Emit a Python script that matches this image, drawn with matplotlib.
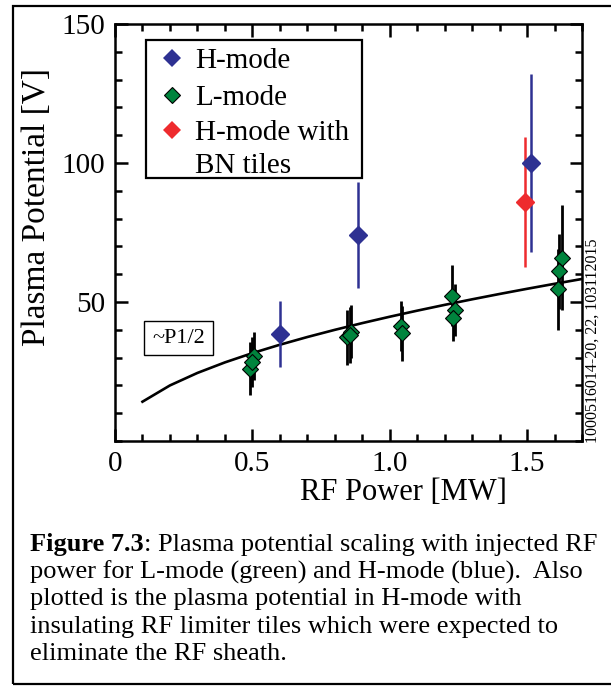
import numpy as np
import matplotlib
matplotlib.use("Agg")
import matplotlib.pyplot as plt
from matplotlib.lines import Line2D
from matplotlib.patches import Rectangle
from matplotlib.ticker import MultipleLocator

plt.rcParams['font.family'] = ['Liberation Serif', 'DejaVu Serif']

# H-mode measurements: RF power [MW], plasma potential [V], error [V]
h_power = [0.60, 0.885, 1.515]
h_potential = [38.5, 74.0, 100.0]
h_err = [12.0, 19.0, 32.0]

# L-mode measurements
l_power = [0.49, 0.505, 0.50, 0.845, 0.86, 0.855, 1.04, 1.045, 1.237, 1.225, 1.232, 1.627, 1.618, 1.613]
l_potential = [26.0, 30.6, 28.4, 37.3, 39.3, 38.1, 41.2, 38.7, 47.1, 52.3, 44.1, 66.0, 61.0, 54.6]
l_err = [9.5, 8.5, 9.0, 10.0, 9.5, 10.0, 9.0, 10.0, 9.5, 11.0, 8.0, 19.0, 13.5, 14.5]

# H-mode with insulating BN limiter tiles
bn_power = [1.493]
bn_potential = [86.0]
bn_err = [23.5]

# square-root scaling fit, V = c * P^(1/2)
fit_coeff = 44.7
fit_power = np.arange(0.1, 1.71, 0.1)

legend_labels = ['H-mode', 'L-mode', 'H-mode with', 'BN tiles']

blue = '#2E3192'
green = '#00843D'
red = '#EE2B2E'

W, H = 611, 691
fig = plt.figure(figsize=(W / 100, H / 100), dpi=100)


def fx(x):
    return x / W


def fy(y):
    return 1 - y / H


# outer frame around figure and caption (right edge runs off the page)
fig.add_artist(Rectangle((fx(13), fy(684)), fx(640 - 13), (684 - 6) / H,
                         transform=fig.transFigure, fill=False, edgecolor='black', lw=1.6))

ax = fig.add_axes([fx(115), fy(441), (582 - 115) / W, (441 - 24) / H])

ax.plot(fit_power, fit_coeff * np.sqrt(fit_power), color='black', lw=1.9, zorder=2)

ax.errorbar(l_power, l_potential, yerr=l_err, fmt='none', ecolor='black', elinewidth=2.0, zorder=3)
ax.plot(l_power, l_potential, 'D', ms=8.4, mfc=green, mec='black', mew=0.8, ls='none', zorder=4)

ax.errorbar(h_power, h_potential, yerr=h_err, fmt='none', ecolor=blue, elinewidth=1.8, zorder=3)
ax.plot(h_power, h_potential, 'D', ms=8.8, mfc=blue, mec=blue, ls='none', zorder=5)

ax.errorbar(bn_power, bn_potential, yerr=bn_err, fmt='none', ecolor=red, elinewidth=1.8, zorder=3)
ax.plot(bn_power, bn_potential, 'D', ms=8.8, mfc=red, mec=red, ls='none', zorder=5)

ax.set_xlim(0, 1.7)
ax.set_ylim(0, 150)
ax.xaxis.set_minor_locator(MultipleLocator(0.1))
ax.yaxis.set_minor_locator(MultipleLocator(10))
ax.set_xticks([0, 0.5, 1.0, 1.5])
ax.set_xticklabels(['0', '0.5', '1.0', '1.5'])
ax.set_yticks([50, 100, 150])
ax.set_yticklabels(['50', '100', '150'])
ax.tick_params(which='both', direction='in', top=True, right=True, labelsize=21, width=1.8)
ax.tick_params(which='major', length=9, pad=7)
ax.tick_params(which='minor', length=5)
for s in ax.spines.values():
    s.set_linewidth(1.8)

ax.set_xlabel('RF Power [MW]', fontsize=22)
ax.xaxis.set_label_coords((403 - 115) / 467, (441 - 478) / 417)
ax.set_ylabel('Plasma Potential [V]', fontsize=24)
ax.yaxis.set_label_coords((52 - 115) / 467, (441 - 207) / 417)

# legend box drawn by hand
fig.add_artist(Rectangle((fx(146), fy(178)), (362 - 146) / W, (178 - 40) / H,
                         transform=fig.transFigure, fc='white', ec='black', lw=1.6, zorder=6))
legend_markers = [(58, blue, blue, 8.8, 0), (95, green, 'black', 8.4, 0.8), (130, red, red, 8.8, 0)]
for y, fc, ec, ms, mew in legend_markers:
    fig.add_artist(Line2D([fx(171.5)], [fy(y)], marker='D', ls='none', ms=ms, mfc=fc, mec=ec,
                          mew=mew, transform=fig.transFigure, zorder=7))
for y, label in zip([58, 95, 130, 163], legend_labels):
    fig.text(fx(195), fy(y), label, fontsize=21, ha='left', va='center_baseline', zorder=7)

# fit annotation
ax.text(0.135, 37.0, '~P1/2', fontsize=16, va='center', ha='left',
        bbox=dict(boxstyle='square,pad=0.35', fc='white', ec='black', lw=1.0))

# figure identifier along the right edge
fig.text(fx(593), fy(443), '1000516014-20, 22, 103112015', rotation=90,
         fontsize=11.5, ha='center', va='bottom')

# caption
cap_x = fx(30)
line_y = [545, 572, 599, 627, 654]
cap_size = 19
fig.canvas.draw()
t0 = fig.text(cap_x, fy(line_y[0]), 'Figure 7.3', fontsize=cap_size, fontweight='bold',
              ha='left', va='center')
fig.canvas.draw()
bb = t0.get_window_extent()
fig.text(bb.x1 / W, fy(line_y[0]), ': Plasma potential scaling with injected RF',
         fontsize=cap_size, ha='left', va='center')
caption_lines = [
    'power for L-mode (green) and H-mode (blue).  Also',
    'plotted is the plasma potential in H-mode with',
    'insulating RF limiter tiles which were expected to',
    'eliminate the RF sheath.',
]
for y, line in zip(line_y[1:], caption_lines):
    fig.text(cap_x, fy(y), line, fontsize=cap_size, ha='left', va='center')

fig.savefig('out.png', dpi=100)
